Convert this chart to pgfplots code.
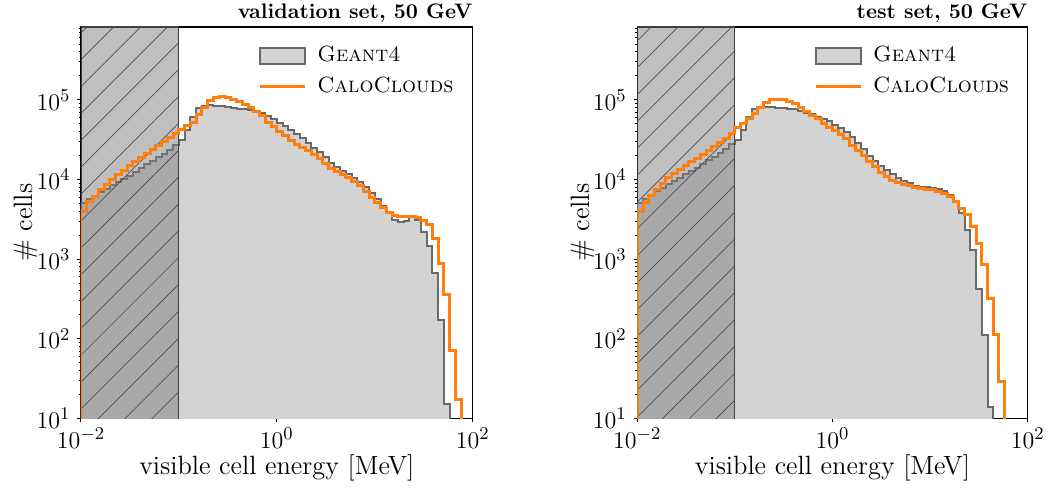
\documentclass[border=0pt]{standalone}
\usepackage{fontspec}
\usepackage{pgfplots}
\pgfplotsset{compat=1.18}
\usepackage{pgfplotstable}
\usetikzlibrary{patterns.meta}
\definecolor{ccorange}{HTML}{FF7F0E}
\definecolor{gfill}{HTML}{D3D3D3}
\definecolor{gedge}{HTML}{696969}

% bin lower edges (17 per decade); g = Geant4, o = CaloClouds
\pgfplotstableread{
x g o
0.01 1 1
0.01 5012 3981
0.011450 5623 5248
0.013111 6166 6166
0.015013 6918 7586
0.017191 7586 8710
0.019684 8511 10000
0.022539 9333 11480
0.025809 10230 12880
0.029552 11220 14790
0.033839 12590 16600
0.038747 13800 19050
0.044367 15490 21380
0.050802 16980 23990
0.058171 19050 26920
0.066608 20890 30200
0.076270 23440 33880
0.087333 26920 38020
0.1 31620 42660
0.11450 41690 47860
0.13111 60260 52480
0.15013 79430 66070
0.17191 83180 79430
0.19684 85110 97720
0.22539 83180 107200
0.25809 83180 109600
0.29552 81280 107200
0.33839 79430 102300
0.38747 77620 95500
0.44367 75860 87100
0.50802 74130 79430
0.58171 70790 72440
0.66608 67610 63100
0.76270 63100 52480
0.87333 57540 45710
1 51290 39810
1.1450 46770 35480
1.3111 41690 30900
1.5013 37150 27540
1.7191 33110 25120
1.9684 28840 22910
2.2539 25120 20420
2.5809 22390 18200
2.9552 19050 15850
3.3839 16220 13800
3.8747 14450 12590
4.4367 12880 11480
5.0802 11750 10470
5.8171 10470 9333
6.6608 9333 8318
7.6270 7943 7079
8.7333 6761 6026
10 5623 5129
11.450 4677 4467
13.111 3802 3890
15.013 3090 3548
17.191 2951 3388
19.684 3020 3388
22.539 3388 3388
25.809 3090 3311
29.552 2188 3020
33.839 1445 2692
38.747 661 1820
44.367 174 891
50.802 15 355
58.171 1 72
66.608 1 17
76.270 1 1
87.333 1 1
100 1 1
}\valtab

\pgfplotstableread{
x g o
0.01 1 1
0.01 5012 3981
0.011450 5623 5129
0.013111 6310 6310
0.015013 7079 7586
0.017191 7762 8913
0.019684 8710 10470
0.022539 9550 11750
0.025809 10470 13180
0.029552 11750 14790
0.033839 12880 16600
0.038747 14130 18620
0.044367 15850 20890
0.050802 17380 23440
0.058171 19050 26300
0.066608 21380 29510
0.076270 23990 33110
0.087333 27540 38020
0.1 31620 44670
0.11450 41690 50120
0.13111 61660 58880
0.15013 77620 67610
0.17191 81280 79430
0.19684 81280 93330
0.22539 81280 102300
0.25809 79430 102300
0.29552 79430 100000
0.33839 77620 95500
0.38747 75860 89130
0.44367 72440 81280
0.50802 69180 72440
0.58171 66070 64570
0.66608 61660 57540
0.76270 57540 50120
0.87333 53700 44670
1 48980 40740
1.1450 44670 36310
1.3111 39810 32360
1.5013 33880 26920
1.7191 28840 23440
1.9684 23990 19950
2.2539 19950 16980
2.5809 16980 14450
2.9552 14790 12300
3.3839 13180 10960
3.8747 11750 9772
4.4367 10470 9120
5.0802 9550 8710
5.8171 8913 8318
6.6608 8318 7943
7.6270 8128 7762
8.7333 7943 7586
10 7762 7413
11.450 7586 7079
13.111 7244 6761
15.013 6310 6166
17.191 5248 5248
19.684 3802 4365
22.539 2344 3631
25.809 1318 2570
29.552 427 1585
33.839 112 851
38.747 14 324
44.367 1 112
50.802 1 29
58.171 1 1
66.608 1 1
76.270 1 1
87.333 1 1
100 1 1
}\testtab

\pgfplotsset{
  every axis title/.style={at={(axis description cs:1,1)}, anchor=base east, inner sep=0pt, yshift=4.3pt, font=\fontsize{10.5}{12}\selectfont\bfseries},
}

\begin{document}
\begin{tikzpicture}
\begin{axis}[
    at={(0pt,0pt)},
    scale only axis, width=195.85pt, height=195.65pt,
    xmode=log, ymode=log,
    xmin=0.01, xmax=100, ymin=10, ymax=8.24e5,
    xtick={0.01,1,100}, xminorticks=false,
    tick align=outside, tick pos=left,
    major tick length=1.8pt, minor tick length=1.1pt,
    axis line style={line width=0.6pt},
    tick style={black, line width=0.5pt},
    tick label style={font=\fontsize{12.5}{14}\selectfont},
    xticklabel style={anchor=base, yshift=-13.3pt},
    xlabel style={at={(axis description cs:0.5,0)}, anchor=base, yshift=-28.3pt, font=\fontsize{13.2}{15}\selectfont},
    ylabel style={at={(axis description cs:-0.1226,0.5)}, anchor=base, font=\fontsize{13.3}{15}\selectfont},
    xlabel={visible cell energy [MeV]},
    ylabel={\# cells},
    title={validation set, 50 GeV},
    legend style={draw=none, fill=none, at={(axis description cs:0.452,0.962)}, anchor=north west,
      inner sep=0pt, row sep=2pt, column sep=3.5pt, font=\fontsize{11}{13}\selectfont},
    legend cell align=left,
]
\addplot[const plot mark left, fill=gfill, draw=none, forget plot] table[x=x,y=g]{\valtab} -- cycle;
\addplot[const plot mark left, draw=gedge, line width=1pt,
  legend image code/.code={\draw[gedge, fill=gfill, line width=1pt] (0pt,-4pt) rectangle (22.5pt,4pt);}] table[x=x,y=g]{\valtab};
\addlegendentry{\textsc{Geant4}}
\addplot[fill=gray, fill opacity=0.5, draw=none, forget plot] coordinates {(0.01,1) (0.1,1) (0.1,1e7) (0.01,1e7)} -- cycle;
\addplot[pattern={Lines[angle=45, distance=9.5pt, line width=0.35pt]}, pattern color=black!70, draw=none, forget plot] coordinates {(0.01,1) (0.1,1) (0.1,1e7) (0.01,1e7)} -- cycle;
\addplot[black!75, line width=0.5pt, forget plot] coordinates {(0.1,1) (0.1,1e7)};
\addplot[const plot mark left, draw=ccorange, line width=1.5pt,
  legend image code/.code={\draw[ccorange, line width=1.5pt] (0pt,0pt) -- (22.5pt,0pt);}] table[x=x,y=o]{\valtab};
\addlegendentry{\textsc{CaloClouds}}
\end{axis}

\begin{axis}[
    at={(278.15pt,0pt)},
    scale only axis, width=195.2pt, height=195.65pt,
    xmode=log, ymode=log,
    xmin=0.01, xmax=100, ymin=10, ymax=8.24e5,
    xtick={0.01,1,100}, xminorticks=false,
    tick align=outside, tick pos=left,
    major tick length=1.8pt, minor tick length=1.1pt,
    axis line style={line width=0.6pt},
    tick style={black, line width=0.5pt},
    tick label style={font=\fontsize{12.5}{14}\selectfont},
    xticklabel style={anchor=base, yshift=-13.3pt},
    xlabel style={at={(axis description cs:0.5,0)}, anchor=base, yshift=-28.3pt, font=\fontsize{13.2}{15}\selectfont},
    ylabel style={at={(axis description cs:-0.1226,0.5)}, anchor=base, font=\fontsize{13.3}{15}\selectfont},
    xlabel={visible cell energy [MeV]},
    ylabel={\# cells},
    title={test set, 50 GeV},
    legend style={draw=none, fill=none, at={(axis description cs:0.452,0.962)}, anchor=north west,
      inner sep=0pt, row sep=2pt, column sep=3.5pt, font=\fontsize{11}{13}\selectfont},
    legend cell align=left,
]
\addplot[const plot mark left, fill=gfill, draw=none, forget plot] table[x=x,y=g]{\testtab} -- cycle;
\addplot[const plot mark left, draw=gedge, line width=1pt,
  legend image code/.code={\draw[gedge, fill=gfill, line width=1pt] (0pt,-4pt) rectangle (22.5pt,4pt);}] table[x=x,y=g]{\testtab};
\addlegendentry{\textsc{Geant4}}
\addplot[fill=gray, fill opacity=0.5, draw=none, forget plot] coordinates {(0.01,1) (0.1,1) (0.1,1e7) (0.01,1e7)} -- cycle;
\addplot[pattern={Lines[angle=45, distance=9.5pt, line width=0.35pt]}, pattern color=black!70, draw=none, forget plot] coordinates {(0.01,1) (0.1,1) (0.1,1e7) (0.01,1e7)} -- cycle;
\addplot[black!75, line width=0.5pt, forget plot] coordinates {(0.1,1) (0.1,1e7)};
\addplot[const plot mark left, draw=ccorange, line width=1.5pt,
  legend image code/.code={\draw[ccorange, line width=1.5pt] (0pt,0pt) -- (22.5pt,0pt);}] table[x=x,y=o]{\testtab};
\addlegendentry{\textsc{CaloClouds}}
\end{axis}
\pgfresetboundingbox
\useasboundingbox (-40.5pt,-35.85pt) rectangle (484.5pt,209.15pt);
\end{tikzpicture}
\end{document}
